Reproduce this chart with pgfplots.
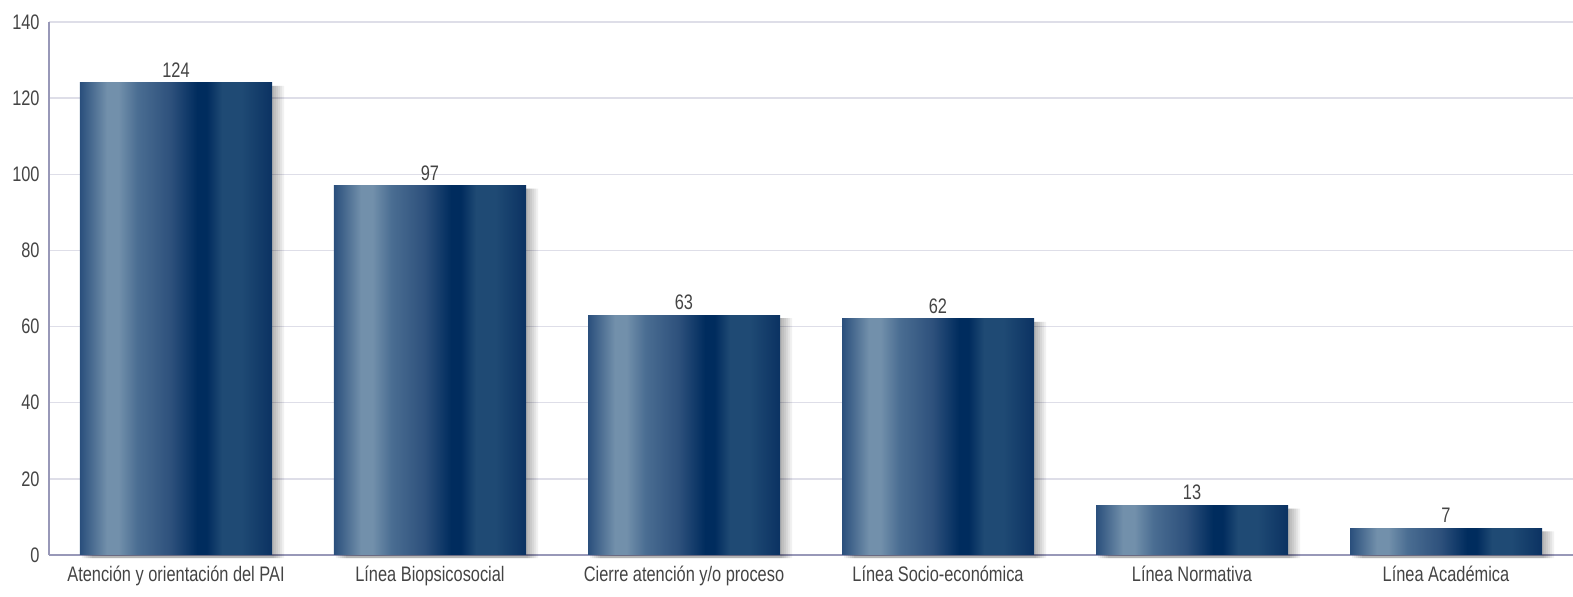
\documentclass[border=0pt]{standalone}
\usepackage{fontspec}
\setmainfont{Liberation Sans}[FakeStretch=0.78]
\usepackage{pgfplots}
\pgfplotsset{compat=1.18}

\definecolor{c0}{RGB}{42,79,124}
\definecolor{c1}{RGB}{114,144,171}
\definecolor{c2}{RGB}{74,109,146}
\definecolor{c3}{RGB}{46,81,124}
\definecolor{c4}{RGB}{0,44,94}
\definecolor{c5}{RGB}{31,74,116}
\definecolor{c6}{RGB}{11,50,98}
\definecolor{gridc}{RGB}{222,222,232}
\definecolor{axisc}{RGB}{152,152,184}
\definecolor{textc}{RGB}{68,68,68}
\definecolor{topc}{RGB}{150,165,185}

% the path fills the middle 50bp of the shading
\pgfdeclarehorizontalshading{barshade}{100bp}{%
  color(0bp)=(c0); color(25bp)=(c0); color(32bp)=(c1); color(35bp)=(c1);
  color(40bp)=(c2); color(48.5bp)=(c3); color(55.5bp)=(c4); color(58bp)=(c4);
  color(62bp)=(c5); color(67bp)=(c5); color(75bp)=(c6); color(100bp)=(c6)}

\pgfplotstableread{
x  val
0  124
1  97
2  63
3  62
4  13
5  7
}\temas

\pgfplotsset{
  sombra/.style={ybar, bar width=96bp, fill=black, fill opacity=0.055,
    draw=none, bar shift=#1, forget plot, yshift=-1.5bp},
  barra/.style={ybar, bar width=96bp, bar shift=0pt, draw=none,
    shade, shading=barshade, forget plot,
    nodes near coords,
    every node near coord/.append style={font=\fontsize{10.5bp}{12bp}\selectfont,
      text=textc, yshift=-1bp}},
}

\begin{document}
\fontsize{10.5bp}{12bp}\selectfont
\begin{tikzpicture}
  \begin{axis}[
    at={(24.5bp,21bp)}, anchor=south west,
    scale only axis,
    width=762bp, height=266.5bp,
    xmin=-0.5, xmax=5.5,
    ymin=0, ymax=140,
    ytick={0,20,...,140},
    xtick={0,...,5},
    xticklabels={Atención y orientación del PAI, Línea Biopsicosocial,
      Cierre atención y/o proceso, Línea Socio-económica,
      Línea Normativa, Línea Académica},
    axis x line*=bottom, axis y line*=left,
    axis line style={-, draw=axisc, line width=0.75bp},
    major tick length=0pt,
    ymajorgrids,
    grid style={draw=gridc, line width=0.75bp},
    tick label style={font=\fontsize{10.5bp}{12bp}\selectfont, text=textc},
    /pgf/number format/assume math mode=true,
    yticklabel style={xshift=-1bp},
    xticklabel style={yshift=-2bp},
    clip=false,
  ]
    \addplot[sombra=1bp] table[x=x, y=val] {\temas};
    \addplot[sombra=2bp] table[x=x, y=val] {\temas};
    \addplot[sombra=3bp] table[x=x, y=val] {\temas};
    \addplot[sombra=4bp] table[x=x, y=val] {\temas};
    \addplot[sombra=5bp] table[x=x, y=val] {\temas};
    \addplot[sombra=6bp] table[x=x, y=val] {\temas};
    \addplot[barra] coordinates {(0,124)};
    \addplot[barra] coordinates {(1,97)};
    \addplot[barra] coordinates {(2,63)};
    \addplot[barra] coordinates {(3,62)};
    \addplot[barra] coordinates {(4,13)};
    \addplot[barra] coordinates {(5,7)};
  \end{axis}
  \pgfresetboundingbox
  \path (0,0) rectangle (786.5bp,298.5bp);
\end{tikzpicture}
\end{document}
